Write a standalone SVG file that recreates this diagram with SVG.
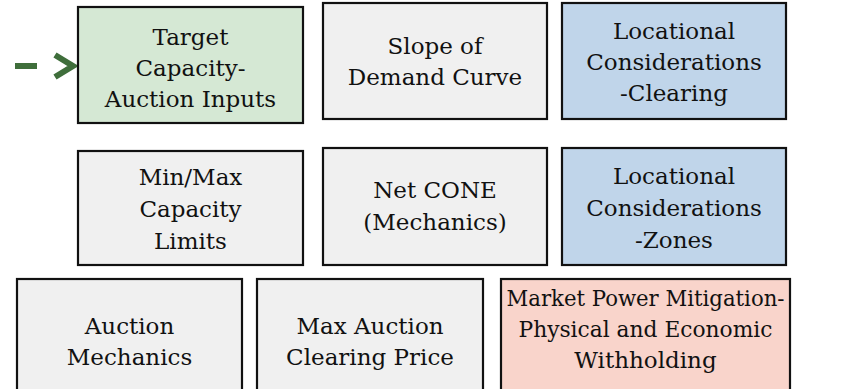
<svg xmlns="http://www.w3.org/2000/svg" width="852" height="389" viewBox="0 0 852 389">
<style>
.box{stroke:#111;stroke-width:2.2}
.g{fill:#d5e8d4}.n{fill:#f0f0f0}.b{fill:#c0d5ea}.p{fill:#f9d4cb}
text{font-family:"DejaVu Serif","Liberation Serif",serif;font-size:23px;fill:#111;text-anchor:middle}
.arr{stroke:#3f6e3b;stroke-width:6;fill:none}
</style>
<rect width="852" height="389" fill="#fff"/>
<g id="connectors">
<line class="arr" x1="15" y1="66" x2="37" y2="66"/>
<polyline class="arr" points="55,55 73,66 55,77" stroke-linejoin="miter"/>
</g>
<g id="target"><rect class="box g" x="78" y="7" width="225" height="116"/>
<text x="190.5" y="45">Target</text><text x="190.5" y="76">Capacity-</text><text x="190.5" y="107">Auction Inputs</text></g>
<g id="slope"><rect class="box n" x="323" y="3" width="224" height="116"/>
<text x="435" y="54">Slope of</text><text x="435" y="85">Demand Curve</text></g>
<g id="loc-clearing"><rect class="box b" x="562" y="3" width="224" height="116"/>
<text x="674" y="39">Locational</text><text x="674" y="70">Considerations</text><text x="674" y="101">-Clearing</text></g>
<g id="minmax"><rect class="box n" x="78" y="151" width="225" height="114"/>
<text x="190.5" y="185">Min/Max</text><text x="190.5" y="217">Capacity</text><text x="190.5" y="249">Limits</text></g>
<g id="netcone"><rect class="box n" x="323" y="148" width="224" height="117"/>
<text x="435" y="198">Net CONE</text><text x="435" y="230">(Mechanics)</text></g>
<g id="loc-zones"><rect class="box b" x="562" y="148" width="224" height="117"/>
<text x="674" y="184">Locational</text><text x="674" y="216">Considerations</text><text x="674" y="248">-Zones</text></g>
<g id="auction"><rect class="box n" x="17" y="279" width="225" height="120"/>
<text x="129.5" y="334">Auction</text><text x="129.5" y="365">Mechanics</text></g>
<g id="maxprice"><rect class="box n" x="257" y="279" width="226" height="120"/>
<text x="370" y="334">Max Auction</text><text x="370" y="365">Clearing Price</text></g>
<g id="mitigation"><rect class="box p" x="501" y="279" width="289" height="120"/>
<text x="645.5" y="306" textLength="278" lengthAdjust="spacingAndGlyphs">Market Power Mitigation-</text><text x="645.5" y="337" textLength="254" lengthAdjust="spacingAndGlyphs">Physical and Economic</text><text x="645.5" y="368">Withholding</text></g>
</svg>
